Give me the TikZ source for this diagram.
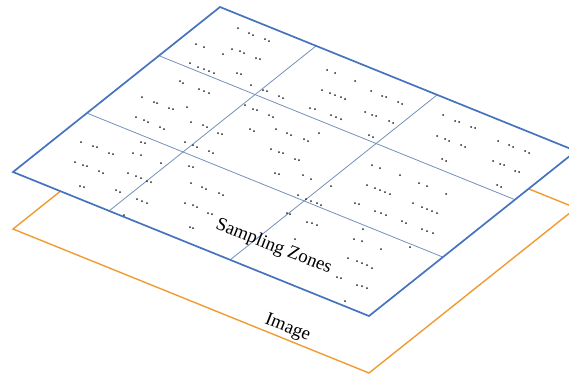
\documentclass[tikz,border=0pt]{standalone}
\usepackage{fontspec}
\setmainfont{Liberation Serif}
\usetikzlibrary{calc}
\definecolor{planeblue}{RGB}{70,115,190}
\definecolor{gridblue}{RGB}{115,145,185}
\definecolor{imgorange}{RGB}{240,155,50}
\tikzset{
  planeedge/.style={draw=planeblue, line width=1.7pt, line join=miter},
  imageframe/.style={draw=imgorange, line width=1.4pt, line join=miter},
  gridline/.style={draw=gridblue, line width=0.8pt},
  sampledot/.style={fill=black!85},
  planetext/.style={font=\fontsize{18.8}{21}\selectfont, rotate=-21.5, anchor=base, inner sep=0pt},
}
\begin{document}
\begin{tikzpicture}[x=1pt,y=-1pt]
\useasboundingbox (0,0) rectangle (569,376);
\clip (0,0) rectangle (569,376);
% sampling plane corners
\coordinate (T) at (220,7);
\coordinate (L) at (13,172);
\coordinate (B) at (369,316);
\coordinate (R) at (576,151);
% image frame corners
\coordinate (IT) at (220,64);
\coordinate (IL) at (13,229);
\coordinate (IB) at (369,373);
\coordinate (IR) at (576,208);
% image frame
\draw[imageframe] (IT) -- (IR) -- (IB) -- (IL) -- cycle;
% plane background
\fill[white] (T) -- (R) -- (B) -- (L) -- cycle;
% grid
\draw[gridline] ($(T)!0.27!(R)$) -- ($(L)!0.27!(B)$);
\draw[gridline] ($(T)!0.61!(R)$) -- ($(L)!0.61!(B)$);
\draw[gridline] ($(T)!0.295!(L)$) -- ($(R)!0.295!(B)$);
\draw[gridline] ($(T)!0.643!(L)$) -- ($(R)!0.643!(B)$);
% sample dots
\foreach \x/\y in {
 238/28, 249/33, 253/35, 265/39, 269/41,
 196/44, 204/47, 232/49, 240/51, 244/53, 223/54, 256/58, 260/59,
 190/63, 198/67, 204/69, 209/71, 214/73, 237/73, 241/74,
 327/70, 335/73, 355/81, 322/90, 330/93, 335/95, 341/97, 345/99, 371/91, 382/96, 386/97,
 398/102, 402/104, 310/108, 315/109, 365/112, 372/115, 376/116, 331/115, 336/117, 341/119,
 389/121, 393/123, 369/135, 373/137,
 443/115, 455/121, 459/122, 471/127, 475/128, 437/136, 445/139, 449/141, 461/145, 465/147,
 442/159, 446/161, 498/141, 509/145, 513/147, 525/151, 529/153, 493/161, 500/164, 504/165,
 515/171, 519/172, 497/185, 501/187,
 180/81, 183/83, 199/89, 204/91, 209/93, 142/97, 154/102, 157/103, 169/108, 173/109, 187/107,
 136/117, 144/120, 148/122, 160/127, 164/129, 191/122, 203/125, 207/127, 218/133, 222/134,
 185/142, 193/145, 197/147, 209/151, 213/153, 161/163, 189/166, 193/167,
 251/85, 263/90, 267/91, 279/96, 283/98, 245/105, 253/109, 257/110, 269/115, 273/117,
 250/129, 254/131, 276/129, 287/133, 291/135, 304/139, 308/141, 319/133, 271/149, 279/152,
 283/153, 295/159, 299/160, 275/173, 279/174, 303/175, 311/179, 331/186,
 372/165, 380/168, 400/175, 367/185, 375/188, 380/190, 385/192, 390/194, 419/183, 427/186,
 446/194, 355/203, 359/204, 375/211, 381/213, 386/215, 413/203, 422/207, 427/209, 432/211,
 437/213, 402/221, 406/223, 422/229, 427/231, 433/233, 363/229, 354/239, 362/241, 381/249, 410/247,
 81/142, 93/146, 97/147, 109/153, 113/154, 133/153, 141/142, 145/143, 141/155, 75/162,
 83/165, 87/166, 99/171, 103/173, 128/173, 136/176, 141/178, 147/181, 151/182, 80/186, 84/187,
 116/190, 120/192, 137/199, 142/201, 147/203, 124/215, 191/183, 202/187, 206/189, 185/203,
 193/205, 197/207, 208/213, 212/214, 190/227, 193/228,
 219/193, 223/195, 298/195, 306/199, 311/201, 317/203, 321/205, 287/213, 290/214,
 307/222, 312/223, 317/225, 295/239,
 348/258, 357/261, 362/263, 367/265, 372/268, 337/277, 341/278, 357/285, 362/286, 367/288, 345/301}
  \fill[sampledot] (\x,\y) circle (1pt);
% plane outline
\draw[planeedge] (T) -- (R) -- (B) -- (L) -- cycle;
% labels
\node[planetext] (zones) at (272,251) {Sampling Zones};
\node[planetext] (image) at (286,332) {Image};
\end{tikzpicture}
\end{document}
